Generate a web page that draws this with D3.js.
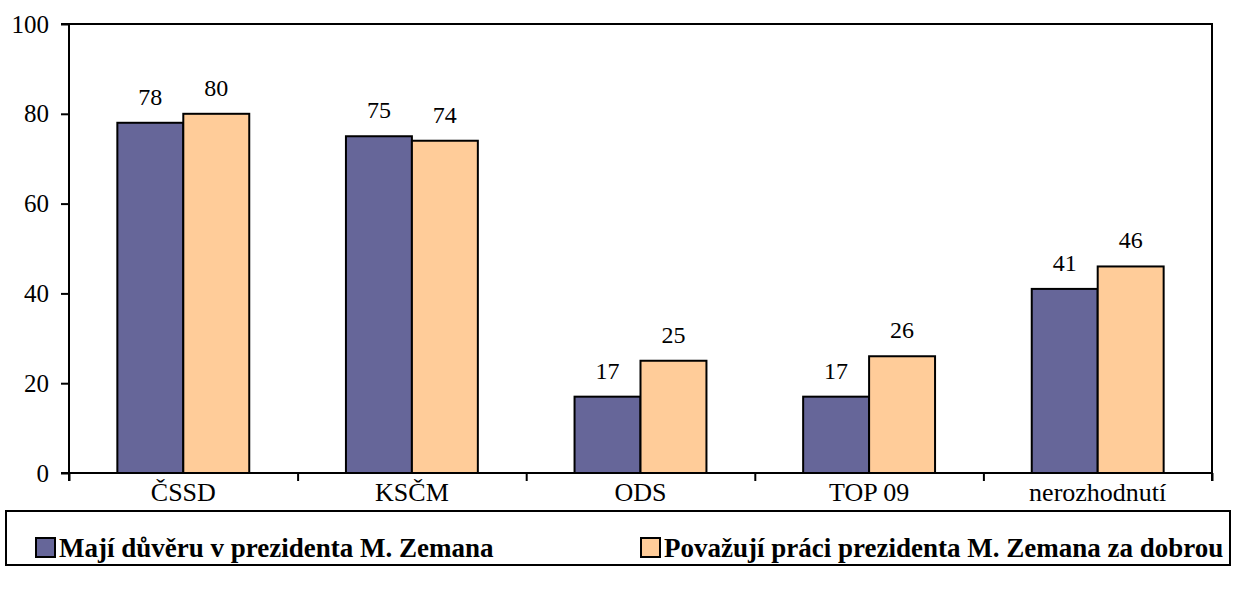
<!DOCTYPE html>
<html>
<head>
<meta charset="utf-8">
<script src="https://cdn.jsdelivr.net/npm/d3@7"></script>
<style>
  body { margin: 0; background: #fff; }
</style>
</head>
<body>
<div id="graph"></div>
<script>
const categories = ["ČSSD", "KSČM", "ODS", "TOP 09", "nerozhodnutí"];
const seriesNames = ["Mají důvěru v prezidenta M. Zemana", "Považují práci prezidenta M. Zemana za dobrou"];
const duvera = [78, 75, 17, 17, 41];
const prace = [80, 74, 25, 26, 46];
const yTicks = [0, 20, 40, 60, 80, 100];
const colors = ["#666699", "#ffcc99"];

const W = 1237, H = 603;
const margin = { top: 24, left: 69, right: 25, bottom: 130 };
const w = W - margin.left - margin.right;
const h = H - margin.top - margin.bottom;
const serif = "Liberation Serif, Tinos, Times New Roman, DejaVu Serif, serif";

const svg = d3.select("#graph").append("svg").attr("width", W).attr("height", H);
const g = svg.append("g").attr("transform", `translate(${margin.left},${margin.top})`);

const x0 = d3.scaleBand().domain(categories).range([0, w]).paddingInner(0.423).paddingOuter(0.2115);
const x1 = d3.scaleBand().domain([0, 1]).range([0, x0.bandwidth()]);
const y = d3.scaleLinear().domain([0, 100]).range([h, 0]);
const xb = d3.scaleLinear().domain([0, categories.length]).range([0, w]);

const rows = categories.map((c, i) => ({ cat: c, vals: [duvera[i], prace[i]] }));

// bars
const grp = g.selectAll(".grp").data(rows).enter().append("g")
  .attr("transform", (d) => `translate(${x0(d.cat)},0)`);
grp.selectAll("rect").data((d) => d.vals.map((v, k) => ({ v, k }))).enter().append("rect")
  .attr("x", (d) => x1(d.k))
  .attr("y", (d) => y(d.v))
  .attr("width", x1.bandwidth())
  .attr("height", (d) => h - y(d.v))
  .attr("fill", (d) => colors[d.k])
  .attr("stroke", "#000")
  .attr("stroke-width", 2);
grp.selectAll("text").data((d) => d.vals.map((v, k) => ({ v, k }))).enter().append("text")
  .attr("x", (d) => x1(d.k) + x1.bandwidth() / 2)
  .attr("y", (d) => y(d.v) - 18)
  .attr("text-anchor", "middle")
  .style("font-family", serif)
  .attr("font-size", 24)
  .text((d) => d.v);

// frame (top + right)
g.append("path").attr("d", `M${-8},0H${w}V${h + 8}`).attr("fill", "none").attr("stroke", "#000").attr("stroke-width", 2);

// y axis
const yAxis = g.append("g").call(d3.axisLeft(y).tickValues(yTicks).tickSize(8).tickPadding(12));
yAxis.select(".domain").attr("stroke-width", 2).attr("d", `M0,0V${h + 8}`);
yAxis.selectAll(".tick line").attr("stroke-width", 2);
yAxis.selectAll("text").style("font-family", serif).attr("font-size", 25).attr("fill", "#000");

// x axis: boundary ticks
const xAxis = g.append("g").attr("transform", `translate(0,${h})`)
  .call(d3.axisBottom(xb).ticks(categories.length).tickSize(8).tickFormat(""));
xAxis.select(".domain").attr("stroke-width", 2).attr("d", `M-8,0H${w}`);
xAxis.selectAll(".tick line").attr("stroke-width", 2);

// x labels
const xLab = g.append("g").attr("transform", `translate(0,${h})`)
  .call(d3.axisBottom(x0).tickSize(0).tickPadding(10));
xLab.select(".domain").remove();
xLab.selectAll("text").style("font-family", serif).attr("font-size", 26).attr("fill", "#000");

// legend
const legend = svg.append("g");
legend.append("rect").attr("x", 6).attr("y", 511).attr("width", 1224).attr("height", 54)
  .attr("fill", "#fff").attr("stroke", "#000").attr("stroke-width", 2);
const legendX = [36, 641];
const items = legend.selectAll(".item").data(seriesNames).enter().append("g")
  .attr("transform", (d, i) => `translate(${legendX[i]},538)`);
items.append("rect").attr("width", 19).attr("height", 19)
  .attr("fill", (d, i) => colors[i]).attr("stroke", "#000").attr("stroke-width", 2);
items.append("text").attr("x", 23).attr("y", 19).style("font-family", serif)
  .attr("font-size", 27).attr("font-weight", "bold").text((d) => d);
</script>
</body>
</html>
